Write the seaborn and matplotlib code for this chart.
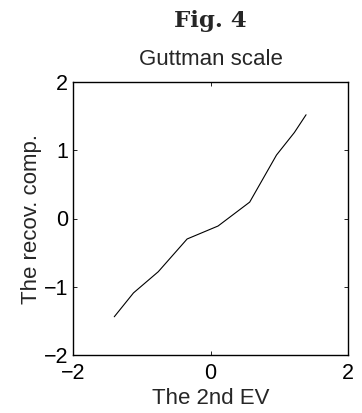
import numpy as np
import pandas as pd
import matplotlib
matplotlib.use("Agg")
import matplotlib.pyplot as plt
import seaborn as sns

# Data
ev2 = [-1.40, -1.12, -0.76, -0.34, 0.11, 0.57, 0.96, 1.22, 1.39]
recov = [-1.44, -1.09, -0.78, -0.30, -0.11, 0.24, 0.93, 1.26, 1.52]
x_ticks = [-2, 0, 2]
y_ticks = [-2, -1, 0, 1, 2]

sns.set_style("white")
plt.rcParams['font.family'] = ['Liberation Sans', 'DejaVu Sans']

fig = plt.figure(figsize=(3.62, 4.13), dpi=100)
ax = fig.add_axes([73/362, 58/413, 275/362, 273/413])

df = pd.DataFrame({"x": ev2, "y": recov})
sns.lineplot(data=df, x="x", y="y", sort=False, color="black", linewidth=0.8, ax=ax)

def fmt(t):
    return ("\u2212" + str(abs(t))) if t < 0 else str(t)

ax.set_xlim(-2, 2)
ax.set_ylim(-2, 2)
ax.set_xticks(x_ticks)
ax.set_yticks(y_ticks)
ax.set_xticklabels([fmt(t) for t in x_ticks])
ax.set_yticklabels([fmt(t) for t in y_ticks])
ax.tick_params(direction="in", length=3, width=0.6, labelsize=15.5, colors="black",
               top=True, right=True, bottom=True, left=True)
ax.tick_params(axis="x", pad=5.5)
ax.tick_params(axis="y", pad=3.5)
for s in ax.spines.values():
    s.set_visible(True)
    s.set_color("black")
    s.set_linewidth(1.0)

ax.set_xlabel("The 2nd EV", fontsize=16, labelpad=3)
ax.set_ylabel("The recov. comp.", fontsize=16, labelpad=1)
ax.set_title("Guttman scale", fontsize=16, pad=12)

fig.text(210/362, 1 - 27/413, "Fig. 4", ha="center", va="baseline",
         fontsize=16.5, fontweight="bold", family="DejaVu Serif")

fig.savefig("out.png", dpi=100)
